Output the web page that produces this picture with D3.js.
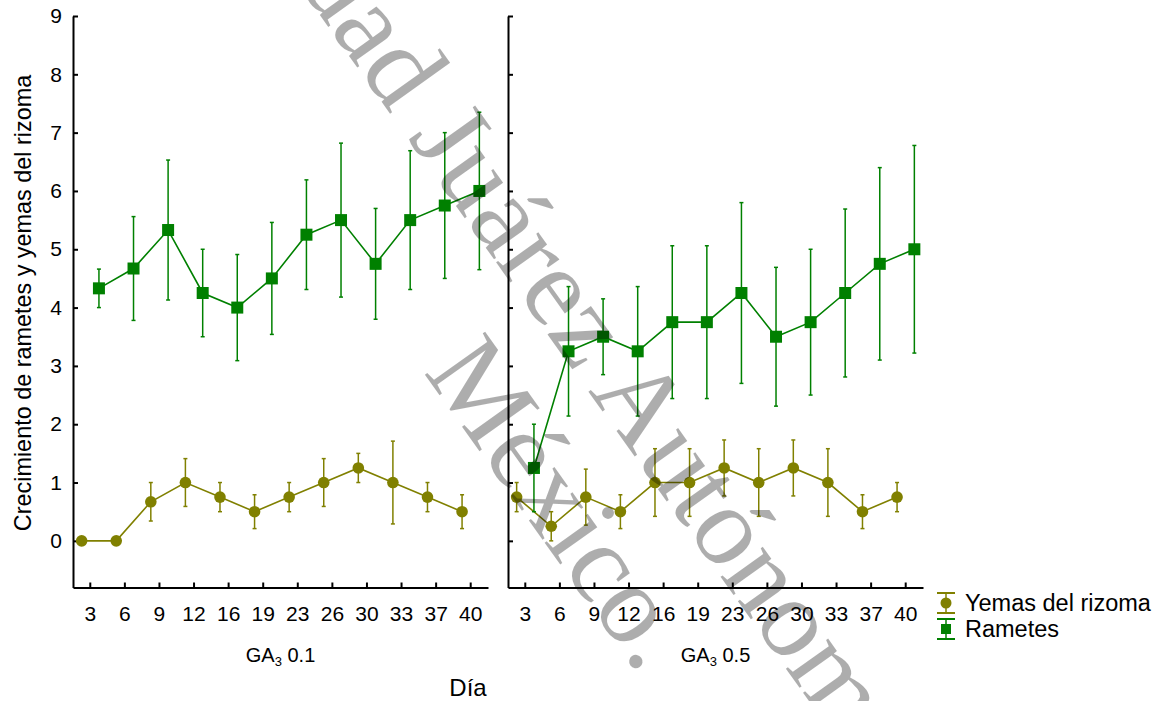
<!DOCTYPE html>
<html>
<head>
<meta charset="utf-8">
<script src="https://cdn.jsdelivr.net/npm/d3@7"></script>
<style>
  html, body { margin: 0; padding: 0; background: #fff; }
  svg { display: block; }
  text { font-family: "Liberation Sans", Arial, sans-serif; fill: #000; }
</style>
</head>
<body>
<svg id="chart" width="1156" height="701"></svg>
<script>
// Days of measurement (categorical x axis)
const days = ["3", "6", "9", "12", "16", "19", "23", "26", "30", "33", "37", "40"];
const yTicks = [0, 1, 2, 3, 4, 5, 6, 7, 8, 9];

// GA3 0.1 treatment: means and error half-widths
const yemas01     = [0, 0, 0.67, 1.0, 0.75, 0.5, 0.75, 1.0, 1.25, 1.0, 0.75, 0.5];
const yemas01Err  = [0, 0, 0.33, 0.41, 0.25, 0.29, 0.25, 0.41, 0.25, 0.71, 0.25, 0.29];
const rametes01    = [4.33, 4.67, 5.33, 4.25, 4.0, 4.5, 5.25, 5.5, 4.75, 5.5, 5.75, 6.0];
const rametes01Err = [0.33, 0.89, 1.2, 0.75, 0.91, 0.96, 0.94, 1.32, 0.95, 1.19, 1.25, 1.35];

// GA3 0.5 treatment
const yemas05     = [0.75, 0.25, 0.75, 0.5, 1.0, 1.0, 1.25, 1.0, 1.25, 1.0, 0.5, 0.75];
const yemas05Err  = [0.25, 0.25, 0.48, 0.29, 0.58, 0.58, 0.48, 0.58, 0.48, 0.58, 0.29, 0.25];
const rametes05    = [1.25, 3.25, 3.5, 3.25, 3.75, 3.75, 4.25, 3.5, 3.75, 4.25, 4.75, 5.0];
const rametes05Err = [0.75, 1.11, 0.65, 1.11, 1.31, 1.31, 1.55, 1.19, 1.25, 1.44, 1.65, 1.78];

const seriesNames = ["Yemas del rizoma", "Rametes"];
const panelNames = ["0.1", "0.5"];

const COL_YEMAS = "#808000";
const COL_RAM = "#008000";

const svg = d3.select("#chart");

const y = d3.scaleLinear().domain([-0.8, 9]).range([587.5, 16]);

const panels = [
  { name: panelNames[0], x0: 73, x1: 488, yemas: yemas01, yemasErr: yemas01Err, ram: rametes01, ramErr: rametes01Err, labels: true },
  { name: panelNames[1], x0: 508, x1: 923, yemas: yemas05, yemasErr: yemas05Err, ram: rametes05, ramErr: rametes05Err, labels: false }
];

panels.forEach(p => {
  const x = d3.scaleBand().domain(days).range([p.x0, p.x1]).padding(0);
  const g = svg.append("g");

  // axes with inward ticks
  const xAxis = d3.axisBottom(x).tickSizeInner(-5).tickSizeOuter(0).tickPadding(18.5);
  const gx = g.append("g").attr("transform", `translate(0,${y.range()[0]})`).call(xAxis);
  gx.selectAll("text").style("font-size", "21px").style("font-family", "Liberation Sans, Arial, sans-serif");

  const yAxis = d3.axisLeft(y).tickValues(yTicks).tickSizeInner(-5).tickSizeOuter(0).tickPadding(11)
    .tickFormat(p.labels ? d3.format("d") : () => "");
  const gy = g.append("g").attr("transform", `translate(${p.x0},0)`).call(yAxis);
  gy.selectAll("text").style("font-size", "21px").style("font-family", "Liberation Sans, Arial, sans-serif");

  [gx, gy].forEach(a => {
    a.selectAll("path.domain").attr("stroke", "#000").attr("stroke-width", 2);
    a.selectAll(".tick line").attr("stroke", "#000").attr("stroke-width", 2);
  });

  // panel label GA3 x
  const lab = g.append("text")
    .attr("x", (p.x0 + p.x1) / 2).attr("y", 662)
    .attr("text-anchor", "middle")
    .style("font-size", "20px");
  lab.append("tspan").text("GA");
  lab.append("tspan").text("3").attr("dy", 4).style("font-size", "13px");
  lab.append("tspan").text(" " + p.name).attr("dy", -4);

  const bw = x.bandwidth();
  const series = [
    { vals: p.yemas, err: p.yemasErr, col: COL_YEMAS, off: 0.25, shape: "circle" },
    { vals: p.ram, err: p.ramErr, col: COL_RAM, off: 0.75, shape: "square" }
  ];

  series.forEach(s => {
    const px = i => x(days[i]) + bw * s.off;
    const sg = g.append("g");
    // error bars
    s.vals.forEach((v, i) => {
      if (s.err[i] <= 0) return;
      const cx = px(i), yt = y(v + s.err[i]), yb = y(v - s.err[i]);
      sg.append("line").attr("x1", cx).attr("x2", cx).attr("y1", yt).attr("y2", yb)
        .attr("stroke", s.col).attr("stroke-width", 1.5);
      [yt, yb].forEach(yy => sg.append("line")
        .attr("x1", cx - 2).attr("x2", cx + 2).attr("y1", yy).attr("y2", yy)
        .attr("stroke", s.col).attr("stroke-width", 1.5));
    });
    // connecting line
    const line = d3.line().x((d, i) => px(i)).y(d => y(d));
    sg.append("path").datum(s.vals).attr("d", line)
      .attr("fill", "none").attr("stroke", s.col).attr("stroke-width", 1.6);
    // markers
    s.vals.forEach((v, i) => {
      if (s.shape === "circle") {
        sg.append("circle").attr("cx", px(i)).attr("cy", y(v)).attr("r", 5.8).attr("fill", s.col);
      } else {
        sg.append("rect").attr("x", px(i) - 6).attr("y", y(v) - 6).attr("width", 12).attr("height", 12).attr("fill", s.col);
      }
    });
  });
});

// axis titles
svg.append("text")
  .attr("transform", "translate(31,303) rotate(-90)")
  .attr("text-anchor", "middle")
  .style("font-size", "23.4px")
  .text("Crecimiento de rametes y yemas del rizoma");

svg.append("text")
  .attr("x", 468).attr("y", 696)
  .attr("text-anchor", "middle")
  .style("font-size", "24px")
  .text("Día");

// legend
const leg = svg.append("g");
const legendItems = [
  { name: seriesNames[0], col: COL_YEMAS, shape: "circle", cy: 603 },
  { name: seriesNames[1], col: COL_RAM, shape: "square", cy: 629 }
];
legendItems.forEach(it => {
  const cx = 946;
  leg.append("line").attr("x1", cx).attr("x2", cx).attr("y1", it.cy - 10).attr("y2", it.cy + 10)
    .attr("stroke", it.col).attr("stroke-width", 1.5);
  [it.cy - 10, it.cy + 10].forEach(yy => leg.append("line")
    .attr("x1", cx - 9).attr("x2", cx + 9).attr("y1", yy).attr("y2", yy)
    .attr("stroke", it.col).attr("stroke-width", 2));
  if (it.shape === "circle") {
    leg.append("circle").attr("cx", cx).attr("cy", it.cy).attr("r", 5.5).attr("fill", it.col);
  } else {
    leg.append("rect").attr("x", cx - 5).attr("y", it.cy - 5).attr("width", 10).attr("height", 10).attr("fill", it.col);
  }
  leg.append("text").attr("x", 965).attr("y", it.cy + 8).style("font-size", "23.5px").text(it.name);
});

// watermark drawn over the plot
const wmLines = ["Universidad Juárez Autónoma de Tabasco", "México."];
const wm = svg.append("g")
  .attr("fill", "#000").attr("fill-opacity", 0.32)
  .style("font-family", "Liberation Serif, 'Times New Roman', serif")
  .style("font-size", "113px");

const t1 = wm.append("text").style("font-family", "Liberation Serif, serif").style("fill", "#000").text(wmLines[0]);
const lead = t1.node().getSubStringLength(0, 9);
t1.attr("transform", "translate(329,28) rotate(54.5)").attr("x", -lead);

wm.append("text").style("font-family", "Liberation Serif, serif").style("fill", "#000")
  .attr("transform", "translate(423,372) rotate(54.5)")
  .text(wmLines[1]);
</script>
</body>
</html>
